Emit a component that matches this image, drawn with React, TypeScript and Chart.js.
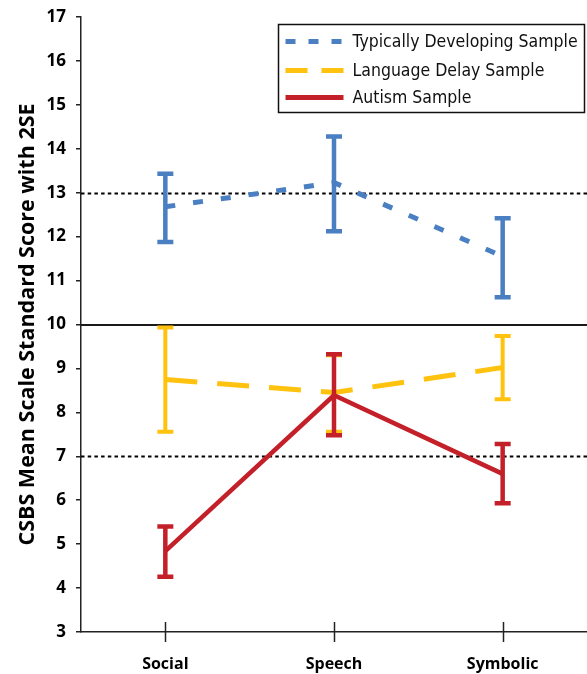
import React, { useEffect, useRef } from "react";
import { Chart, registerables } from "chart.js";

Chart.register(...registerables);

const categories = ["Social", "Speech", "Symbolic"];
const yTicks = [3, 4, 5, 6, 7, 8, 9, 10, 11, 12, 13, 14, 15, 16, 17];

const tdMean = [12.68, 13.23, 11.55];
const tdLow = [11.88, 12.12, 10.62];
const tdHigh = [13.43, 14.28, 12.42];

const ldMean = [8.75, 8.45, 9.02];
const ldLow = [7.56, 7.56, 8.3];
const ldHigh = [9.93, 9.3, 9.74];

const auMean = [4.84, 8.39, 6.6];
const auLow = [4.26, 7.48, 5.93];
const auHigh = [5.4, 9.32, 7.28];

const seriesNames = ["Typically Developing Sample", "Language Delay Sample", "Autism Sample"];
const dottedRefs = [13, 7];
const solidRefs = [10];

const BLUE = "#4A7FC1";
const YELLOW = "#FFC20E";
const RED = "#C3202A";

const refLinesPlugin = {
  id: "refLines",
  beforeDatasetsDraw(chart: any) {
    const { ctx, chartArea, scales } = chart;
    const y = scales.y;
    ctx.save();
    ctx.strokeStyle = "#000";
    ctx.lineWidth = 2;
    ctx.setLineDash([3.5, 3.2]);
    dottedRefs.forEach((v) => {
      const py = Math.round(y.getPixelForValue(v)) + 0.5;
      ctx.beginPath();
      ctx.moveTo(chartArea.left, py);
      ctx.lineTo(chartArea.right, py);
      ctx.stroke();
    });
    ctx.setLineDash([]);
    ctx.strokeStyle = "#1a1a1a";
    ctx.lineWidth = 2;
    solidRefs.forEach((v) => {
      const py = Math.round(y.getPixelForValue(v));
      ctx.beginPath();
      ctx.moveTo(chartArea.left, py);
      ctx.lineTo(chartArea.right, py);
      ctx.stroke();
    });
    ctx.restore();
  },
};

const errorBarsPlugin = {
  id: "errorBars",
  afterDatasetsDraw(chart: any) {
    const { ctx, scales } = chart;
    const x = scales.x;
    const y = scales.y;
    chart.data.datasets.forEach((ds: any) => {
      ctx.save();
      ctx.strokeStyle = ds.borderColor;
      ctx.lineWidth = ds.errWidth;
      ctx.lineCap = "butt";
      ctx.setLineDash([]);
      ds.errLow.forEach((lo: number, i: number) => {
        const hi = ds.errHigh[i];
        const px = x.getPixelForValue(i);
        const pLo = y.getPixelForValue(lo);
        const pHi = y.getPixelForValue(hi);
        const cap = 8;
        ctx.beginPath();
        ctx.moveTo(px, pLo);
        ctx.lineTo(px, pHi);
        ctx.moveTo(px - cap, pLo);
        ctx.lineTo(px + cap, pLo);
        ctx.moveTo(px - cap, pHi);
        ctx.lineTo(px + cap, pHi);
        ctx.stroke();
      });
      ctx.restore();
    });
  },
};

const axisCrossPlugin = {
  id: "axisCross",
  afterDraw(chart: any) {
    const { ctx, chartArea, scales } = chart;
    const x = scales.x;
    ctx.save();
    ctx.strokeStyle = "#222";
    ctx.lineWidth = 1.5;
    categories.forEach((_, i) => {
      const px = Math.round(x.getPixelForValue(i)) + 0.5;
      ctx.beginPath();
      ctx.moveTo(px, chartArea.bottom - 10);
      ctx.lineTo(px, chartArea.bottom + 10);
      ctx.stroke();
    });
    ctx.restore();
  },
};

const legendBoxPlugin = {
  id: "legendBox",
  afterDraw(chart: any) {
    const { ctx } = chart;
    const left = 278.5;
    const top = 24.5;
    const w = 306;
    const h = 88;
    ctx.save();
    ctx.fillStyle = "#fff";
    ctx.fillRect(left, top, w, h);
    ctx.strokeStyle = "#111";
    ctx.lineWidth = 1.5;
    ctx.strokeRect(left, top, w, h);
    const rows = [17, 46, 73];
    chart.data.datasets.forEach((ds: any) => {
      const yy = top + rows[ds.legendRow];
      ctx.strokeStyle = ds.borderColor;
      ctx.lineWidth = 5;
      ctx.setLineDash(ds.legendDash);
      ctx.beginPath();
      ctx.moveTo(left + 7, yy);
      ctx.lineTo(left + 65, yy);
      ctx.stroke();
      ctx.setLineDash([]);
      ctx.fillStyle = "#111";
      ctx.font = "17.5px 'Liberation Sans Narrow', 'DejaVu Sans Condensed', sans-serif";
      ctx.textBaseline = "middle";
      ctx.textAlign = "left";
      ctx.fillText(ds.label, left + 74, yy + 1);
    });
    ctx.restore();
  },
};

export default function App() {
  const canvasRef = useRef<HTMLCanvasElement | null>(null);

  useEffect(() => {
    document.body.style.margin = "0";
    const canvas = canvasRef.current;
    if (!canvas) return;
    const chart = new Chart(canvas, {
      type: "line",
      data: {
        labels: categories,
        datasets: [
          {
            label: seriesNames[0],
            data: tdMean,
            borderColor: BLUE,
            borderWidth: 5,
            borderDash: [10, 18],
            pointRadius: 0,
            fill: false,
            order: 3,
            errLow: tdLow,
            errHigh: tdHigh,
            errWidth: 4.5,
            legendDash: [10, 13],
            legendRow: 0,
          } as any,
          {
            label: seriesNames[1],
            data: ldMean,
            borderColor: YELLOW,
            borderWidth: 5,
            borderDash: [32, 20],
            pointRadius: 0,
            fill: false,
            order: 2,
            errLow: ldLow,
            errHigh: ldHigh,
            errWidth: 4,
            legendDash: [22, 14],
            legendRow: 1,
          } as any,
          {
            label: seriesNames[2],
            data: auMean,
            borderColor: RED,
            borderWidth: 4.5,
            pointRadius: 0,
            fill: false,
            order: 1,
            errLow: auLow,
            errHigh: auHigh,
            errWidth: 4.5,
            legendDash: [],
            legendRow: 2,
          } as any,
        ],
      },
      options: {
        responsive: false,
        animation: false,
        devicePixelRatio: 1,
        layout: { padding: { top: 17, right: 0, left: 0, bottom: 0 } },
        plugins: {
          legend: { display: false },
          tooltip: { enabled: false },
        },
        scales: {
          x: {
            type: "category",
            offset: true,
            grid: { display: false, drawTicks: false },
            border: { display: true, color: "#222", width: 1.5 },
            ticks: {
              color: "#000",
              padding: 23,
              font: { family: "'Open Sans', sans-serif", size: 16, weight: "bold" },
            },
            afterFit: (s: any) => {
              s.height = 42;
            },
          },
          y: {
            min: 3,
            max: 17,
            afterBuildTicks: (s: any) => {
              s.ticks = yTicks.map((v) => ({ value: v }));
            },
            grid: { display: true, drawOnChartArea: false, tickLength: 5, color: "#222", lineWidth: 1.5 },
            border: { display: true, color: "#222", width: 1.5 },
            ticks: {
              color: "#000",
              padding: 10,
              font: { family: "'Open Sans', sans-serif", size: 17, weight: "bold", lineHeight: 0.8 },
            },
            title: {
              display: true,
              text: "CSBS Mean Scale Standard Score with 2SE",
              color: "#000",
              padding: { top: 15, bottom: 0 },
              font: { family: "'Open Sans', sans-serif", size: 21.5, weight: "bold" },
            },
            afterFit: (s: any) => {
              s.width = 81;
            },
          },
        },
      },
      plugins: [refLinesPlugin, errorBarsPlugin, axisCrossPlugin, legendBoxPlugin],
    });
    return () => chart.destroy();
  }, []);

  return (
    <div style={{ width: 587, height: 674 }}>
      <canvas ref={canvasRef} width={587} height={674} />
    </div>
  );
}
